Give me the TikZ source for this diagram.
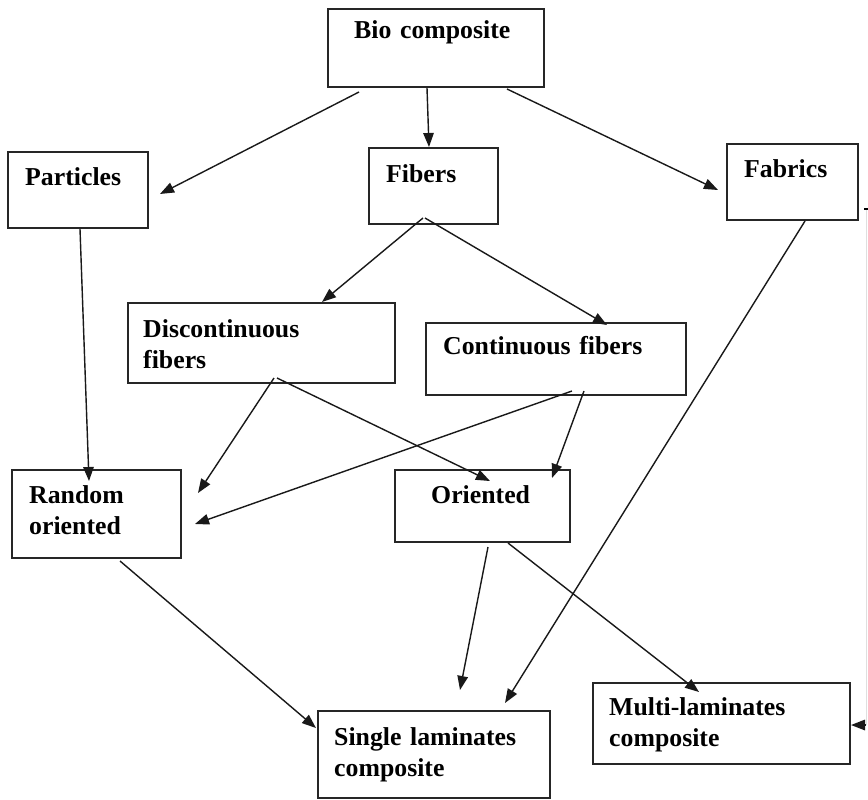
\documentclass[tikz,border=0pt]{standalone}
\usepackage{fontspec}
\setmainfont{Liberation Serif}
\usepackage{tikz}
\usetikzlibrary{arrows.meta,calc}

\tikzset{
  box/.style 2 args={draw=black!85, line width=1.7pt, inner sep=0pt, anchor=north west,
    minimum width=#1*0.03cm, minimum height=#2*0.03cm},
  txt/.style={inner sep=0pt, anchor=base west, align=left, text width=8cm,
    font=\bfseries\fontsize{22}{26.5}\selectfont},
  link/.style={->, line width=1.2pt, draw=black!90},
  >={Triangle[length=12pt,width=9pt]}
}

\begin{document}
\begin{tikzpicture}[x=0.03cm, y=-0.03cm]
    \useasboundingbox (0,0) rectangle (868,799);

    % Boxes
    \node[box={216}{78}] (bio) at (327,8) {};
    \node[box={140}{76}] (part) at (7,151) {};
    \node[box={129}{76}] (fib) at (368,147) {};
    \node[box={131}{76}] (fab) at (726,143) {};
    \node[box={267}{80}] (disc) at (127,302) {};
    \node[box={260}{72}] (cont) at (425,322) {};
    \node[box={169}{88}] (rand) at (11,469) {};
    \node[box={175}{72}] (ori) at (394,469) {};
    \node[box={232}{87}] (sing) at (317,710) {};
    \node[box={257}{81}] (multi) at (592,682) {};

    % Labels
    \node[txt] (biotxt) at (354,38) {Bio composite};
    \node[txt] (parttxt) at (25,185) {Particles};
    \node[txt] (fibtxt) at (386,182) {Fibers};
    \node[txt] (fabtxt) at (744,177) {Fabrics};
    \node[txt] (disctxt) at (143,337) {Discontinuous\\fibers};
    \node[txt] (conttxt) at (443,354) {Continuous fibers};
    \node[txt] (randtxt) at (29,503) {Random\\oriented};
    \node[txt] (oritxt) at (431,503) {Oriented};
    \node[txt] (singtxt) at (334,745) {Single laminates\\composite};
    \node[txt] (multitxt) at (609,715) {Multi-laminates\\composite};

    % Arrows
    \draw[link] ($(bio.south west)+(32,4)$) -- ($(part.east)+(11,4)$);
    \draw[link] ($(bio.south west)+(100,0)$) -- ($(fib.north west)+(61,0)$);
    \draw[link] ($(bio.south east)+(-38,1)$) -- ($(fab.west)+(-8,8)$);
    \draw[link] ($(fib.south west)+(55,-7)$) -- ($(disc.north west)+(195,0)$);
    \draw[link] ($(fib.south west)+(57,-7)$) -- ($(cont.north west)+(182,3)$);
    \draw[link] ($(part.south west)+(73,0)$) -- ($(rand.north west)+(78,12)$);
    \draw[link] ($(disc.south west)+(147,-6)$) -- ($(rand.east)+(16,-21)$);
    \draw[link] ($(disc.south west)+(150,-6)$) -- ($(ori.north west)+(96,12)$);
    \draw[link] ($(cont.south east)+(-115,-5)$) -- ($(rand.east)+(13,10)$);
    \draw[link] ($(cont.south east)+(-103,-5)$) -- ($(ori.north east)+(-19,9)$);
    \draw[link] ($(fab.south west)+(79,0)$) -- ($(sing.north west)+(188,-7)$);
    \draw[link] ($(rand.south west)+(109,2)$) -- ($(sing.north west)+(-1,18)$);
    \draw[link] ($(ori.south west)+(94,4)$) -- ($(sing.north west)+(143,-20)$);
    \draw[link] ($(ori.south west)+(114,0)$) -- ($(multi.north west)+(107,10)$);

    % Cut-off line on the right edge
    \coordinate (edgetop) at (866,209);
    \coordinate (edgebot) at (866,725);
    \draw[gray!25, line width=0.6pt] (edgetop) -- (edgebot);
    \draw[line width=1pt] ($(edgetop)+(-2,0)$) -- ($(edgetop)+(2,0)$);
    \draw[link] (edgebot) -- (multi.east |- edgebot);
\end{tikzpicture}
\end{document}
